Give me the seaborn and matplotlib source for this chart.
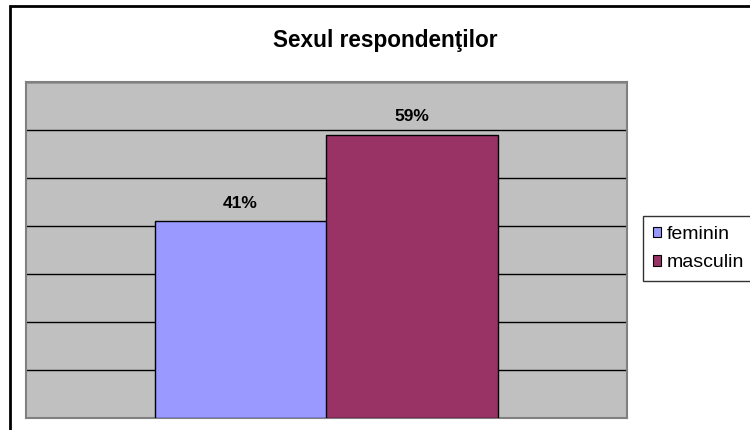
import matplotlib
matplotlib.use("Agg")
import pandas as pd
import seaborn as sns
import matplotlib.pyplot as plt
from matplotlib.patches import Rectangle

# data
categories = ["feminin", "masculin"]
values = [41, 59]
labels = ["41%", "59%"]
colors = ["#9999ff", "#993366"]

sns.set_style("white")
plt.rcParams['font.family'] = ['Liberation Sans', 'DejaVu Sans']
plt.rcParams['text.color'] = 'black'

df = pd.DataFrame({"sex": categories, "pct": values})

fig = plt.figure(figsize=(7.5, 4.3), dpi=100)
# plot area in pixels: x 26..627, y 82..418
ax = fig.add_axes([26 / 750, 1 - 418 / 430, (627 - 26) / 750, (418 - 82) / 430])
ax.set_facecolor("#c0c0c0")

sns.barplot(data=df, x="sex", y="pct", hue="sex", palette=colors,
            saturation=1, width=1.0, edgecolor="black", linewidth=1.0,
            ax=ax, legend=False, zorder=3)

ax.set_ylim(0, 70)
ax.set_xlim(-1.25, 2.25)
ax.set_yticks(range(0, 71, 10))
ax.yaxis.grid(True, color="black", linewidth=1.0, zorder=0)
ax.set_axisbelow(True)
ax.tick_params(left=False, bottom=False, labelleft=False, labelbottom=False)
ax.set_xlabel("")
ax.set_ylabel("")
for s in ax.spines.values():
    s.set_color("#808080")
    s.set_linewidth(1.5)

for i, (v, t) in enumerate(zip(values, labels)):
    ax.text(i, v + 2.2, t, ha="center", va="bottom", fontsize=12.5,
            fontweight="bold", color="black")

# legend on the right
handles = [Rectangle((0, 0), 1, 1, facecolor=c, edgecolor="black", linewidth=0.8)
           for c in colors]
leg = fig.legend(handles, categories, loc="upper left",
                 bbox_to_anchor=(643 / 750, 1 - 216 / 430), fontsize=14,
                 frameon=True, fancybox=False, edgecolor="black",
                 handlelength=0.45, handleheight=0.45, handletextpad=0.25,
                 borderpad=0.5, labelspacing=0.6, borderaxespad=0)
for t in leg.get_texts():
    t.set_color("black")

fig.text(385 / 750, 1 - 40 / 430, "Sexul respondenţilor", ha="center",
         va="center", fontsize=16.3, fontweight="bold", color="black")

# outer chart border
fig.patches.append(Rectangle((10 / 750, -0.1), 1.1, 1 - 6 / 430 + 0.1,
                             transform=fig.transFigure, fill=False,
                             edgecolor="black", linewidth=2.0))

fig.savefig("out.png", dpi=100)
